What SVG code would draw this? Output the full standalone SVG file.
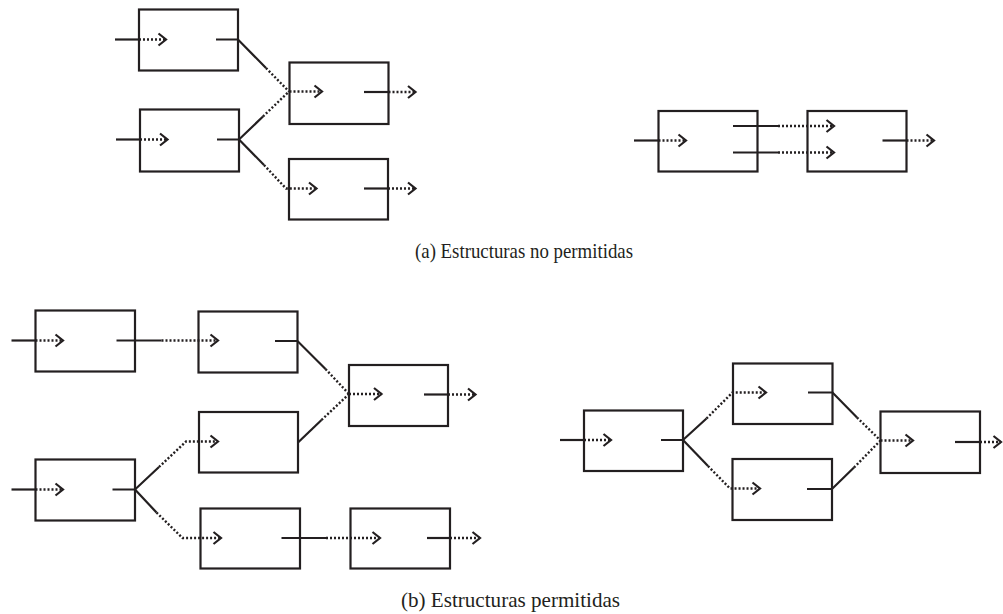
<svg xmlns="http://www.w3.org/2000/svg" width="1003" height="614" viewBox="0 0 1003 614">
<style>
.box{fill:none;stroke:#231f20;stroke-width:2.2}
.sol{fill:none;stroke:#231f20;stroke-width:2.2}
.dot{fill:none;stroke:#231f20;stroke-width:2.4;stroke-dasharray:2 2}
.arr{marker-end:url(#ah)}
.cap{font-family:"Liberation Serif","Times New Roman",serif;font-size:21px;fill:#231f20}
</style>
<defs>
<marker id="ah" markerUnits="userSpaceOnUse" markerWidth="12" markerHeight="16" refX="8" refY="7" orient="auto" overflow="visible">
<path d="M0.5,1 L8,7 L0.5,13" fill="none" stroke="#231f20" stroke-width="2.2"/>
</marker>
</defs>
<rect width="1003" height="614" fill="#fff"/>

<g id="A1"><rect class="box" x="139" y="9.5" width="99" height="61"/></g>
<g id="A2"><rect class="box" x="140" y="109.5" width="99" height="62"/></g>
<g id="B1"><rect class="box" x="289.5" y="62.5" width="99" height="61.5"/></g>
<g id="B2"><rect class="box" x="289" y="159" width="99" height="60.5"/></g>
<g id="C1"><rect class="box" x="658.5" y="111" width="99" height="60.5"/></g>
<g id="C2"><rect class="box" x="807.5" y="111" width="99" height="60.5"/></g>
<g id="D1"><rect class="box" x="35.5" y="310.5" width="99.5" height="61"/></g>
<g id="D2"><rect class="box" x="198.5" y="311.5" width="99" height="61"/></g>
<g id="D3"><rect class="box" x="349" y="365" width="99" height="61"/></g>
<g id="D4"><rect class="box" x="199" y="412" width="99" height="60.5"/></g>
<g id="D5"><rect class="box" x="35.5" y="459.5" width="99.5" height="61"/></g>
<g id="D6"><rect class="box" x="200.5" y="508.5" width="99.5" height="60"/></g>
<g id="D7"><rect class="box" x="350.5" y="508.5" width="99.5" height="60"/></g>
<g id="E1"><rect class="box" x="584" y="410.5" width="99" height="60.5"/></g>
<g id="E2"><rect class="box" x="733" y="363.5" width="99.5" height="60.5"/></g>
<g id="E3"><rect class="box" x="732.5" y="459" width="99.5" height="61"/></g>
<g id="E4"><rect class="box" x="880.5" y="411.5" width="99.5" height="61.5"/></g>

<g id="connectors">
<!-- (a) left -->
<path class="sol" d="M115,39.5 H139"/>
<path class="dot arr" d="M139,39.5 H166"/>
<path class="sol" d="M216,39.5 H238 L266,68"/>
<path class="dot" d="M266,68 L289,91.5"/>
<path class="sol" d="M116,139.5 H140"/>
<path class="dot arr" d="M140,139.5 H167.5"/>
<path class="sol" d="M217,139.5 H239 L263,116.5"/>
<path class="dot" d="M263,116.5 L289,91.5"/>
<path class="sol" d="M239,139.5 L264,165"/>
<path class="dot arr" d="M264,165 L286,188.5 H316.5"/>
<path class="dot arr" d="M289.5,91.5 H322"/>
<path class="sol" d="M364,92 H388.5"/>
<path class="dot arr" d="M388.5,92 H415.5"/>
<path class="sol" d="M364,188.5 H388"/>
<path class="dot arr" d="M388,188.5 H415.5"/>
<!-- (a) right -->
<path class="sol" d="M634,140.5 H658.5"/>
<path class="dot arr" d="M658.5,140.5 H686"/>
<path class="sol" d="M733,126 H778"/>
<path class="dot arr" d="M778,126 H834"/>
<path class="sol" d="M733,152.5 H778"/>
<path class="dot arr" d="M778,152.5 H834"/>
<path class="sol" d="M882.5,140.5 H906.5"/>
<path class="dot arr" d="M906.5,140.5 H934"/>
<!-- (b) left -->
<path class="sol" d="M11.5,340.5 H35.5"/>
<path class="dot arr" d="M35.5,340.5 H63"/>
<path class="sol" d="M116.5,340.5 H161.5"/>
<path class="dot arr" d="M161.5,340.5 H218"/>
<path class="sol" d="M275,341 H297.5 L325.5,369"/>
<path class="dot" d="M325.5,369 L349,394"/>
<path class="dot arr" d="M349,394 H381.5"/>
<path class="sol" d="M424,394.5 H448"/>
<path class="dot arr" d="M448,394.5 H475.5"/>
<path class="sol" d="M298,442.5 L321.5,420"/>
<path class="dot" d="M321.5,420 L349,394"/>
<path class="sol" d="M11.5,489.5 H35.5"/>
<path class="dot arr" d="M35.5,489.5 H63"/>
<path class="sol" d="M112.5,489.5 H135 L159,467"/>
<path class="dot arr" d="M159,467 L186,441.5 H218"/>
<path class="sol" d="M135,489.5 L156.5,512.5"/>
<path class="dot arr" d="M156.5,512.5 L182.5,538 H221"/>
<path class="sol" d="M281.5,538 H326"/>
<path class="dot arr" d="M326,538 H380"/>
<path class="sol" d="M427,538 H450"/>
<path class="dot arr" d="M450,538 H480"/>
<!-- (b) right -->
<path class="sol" d="M560,440 H584"/>
<path class="dot arr" d="M584,440 H611"/>
<path class="sol" d="M661,440 H683 L706.5,418.5"/>
<path class="dot arr" d="M706.5,418.5 L732.5,392.5 H766"/>
<path class="sol" d="M683,440 L708,466"/>
<path class="dot arr" d="M708,466 L730,488.5 H760"/>
<path class="sol" d="M808,392.5 H832.5 L857,417.5"/>
<path class="dot" d="M857,417.5 L880.5,440.5"/>
<path class="sol" d="M807,489 H832 L854,467.5"/>
<path class="dot" d="M854,467.5 L880.5,440.5"/>
<path class="dot arr" d="M880.5,440.5 H913"/>
<path class="sol" d="M955,442 H980"/>
<path class="dot arr" d="M980,442 H1001"/>
</g>

<text class="cap" x="415" y="258" textLength="218" lengthAdjust="spacingAndGlyphs">(a) Estructuras no permitidas</text>
<text class="cap" x="401" y="607" textLength="219" lengthAdjust="spacingAndGlyphs">(b) Estructuras permitidas</text>
</svg>
